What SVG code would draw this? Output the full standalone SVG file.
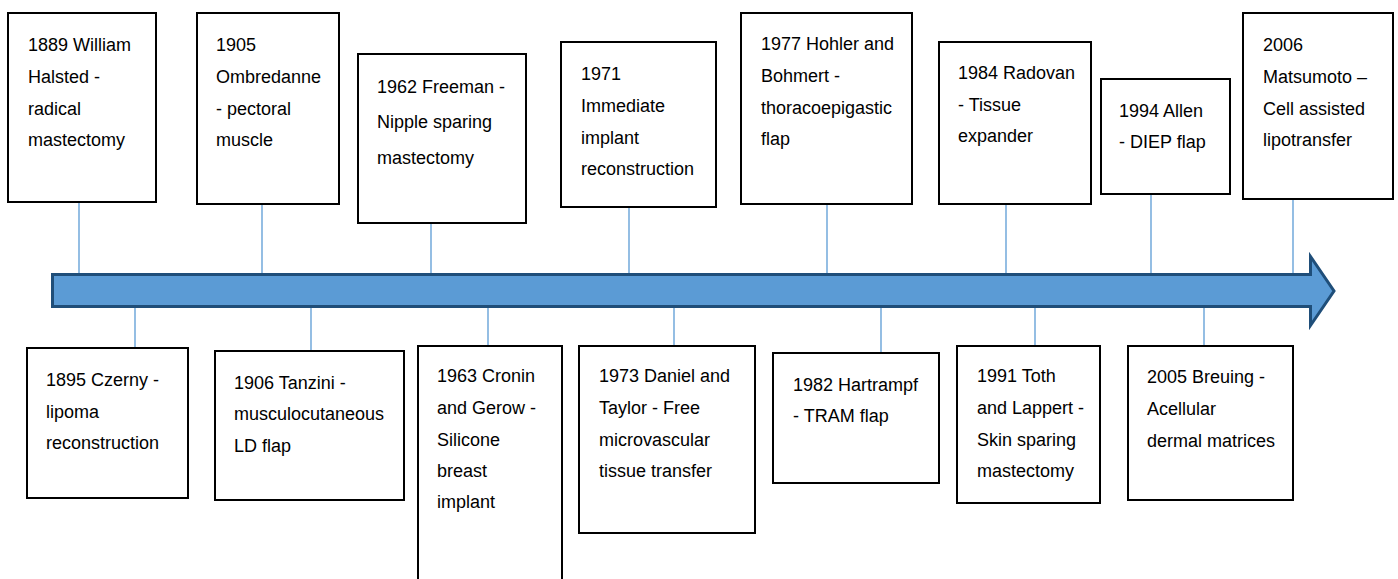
<svg xmlns="http://www.w3.org/2000/svg" width="1398" height="579" viewBox="0 0 1398 579">
<style>
.box{fill:#fff;stroke:#000;stroke-width:2}
.t{font-family:"Liberation Sans",Arial,sans-serif;font-size:18px;fill:#000}
.c{stroke:#5B9BD5;stroke-width:1.3;fill:none}
</style>
<rect width="1398" height="579" fill="#fff"/>
<g id="connectors">
<line class="c" x1="79" y1="202" x2="79" y2="276"/>
<line class="c" x1="262" y1="204" x2="262" y2="276"/>
<line class="c" x1="431" y1="223" x2="431" y2="276"/>
<line class="c" x1="629" y1="207" x2="629" y2="276"/>
<line class="c" x1="827" y1="204" x2="827" y2="276"/>
<line class="c" x1="1006" y1="204" x2="1006" y2="276"/>
<line class="c" x1="1151" y1="194" x2="1151" y2="276"/>
<line class="c" x1="1293" y1="193" x2="1293" y2="276"/>
<line class="c" x1="135" y1="306" x2="135" y2="348"/>
<line class="c" x1="311" y1="306" x2="311" y2="351"/>
<line class="c" x1="488" y1="306" x2="488" y2="346"/>
<line class="c" x1="674" y1="306" x2="674" y2="346"/>
<line class="c" x1="881" y1="306" x2="881" y2="353"/>
<line class="c" x1="1035" y1="306" x2="1035" y2="346"/>
<line class="c" x1="1204" y1="306" x2="1204" y2="346"/>
</g>
<g id="timeline-arrow">
<path d="M52.5,274.5 L1310.5,274.5 L1310.5,256.5 L1334,291 L1310.5,325.5 L1310.5,306.5 L52.5,306.5 Z" fill="#5B9BD5" stroke="#1F4E79" stroke-width="3" stroke-linejoin="miter"/>
</g>
<g id="n1889"><rect class="box" x="8" y="13" width="148" height="189"/>
<text class="t" x="28" y="51">1889 William</text><text class="t" x="28" y="83">Halsted -</text><text class="t" x="28" y="115">radical</text><text class="t" x="28" y="146">mastectomy</text></g>
<g id="n1905"><rect class="box" x="197" y="13" width="142" height="191"/>
<text class="t" x="216" y="51">1905</text><text class="t" x="216" y="83">Ombredanne</text><text class="t" x="216" y="115">- pectoral</text><text class="t" x="216" y="146">muscle</text></g>
<g id="n1962"><rect class="box" x="358" y="54" width="168" height="169"/>
<text class="t" x="377" y="93">1962 Freeman -</text><text class="t" x="377" y="128">Nipple sparing</text><text class="t" x="377" y="164">mastectomy</text></g>
<g id="n1971"><rect class="box" x="561" y="42" width="155" height="165"/>
<text class="t" x="581" y="80">1971</text><text class="t" x="581" y="112">Immediate</text><text class="t" x="581" y="144">implant</text><text class="t" x="581" y="175">reconstruction</text></g>
<g id="n1977"><rect class="box" x="741" y="13" width="171" height="191"/>
<text class="t" x="761" y="50">1977 Hohler and</text><text class="t" x="761" y="82">Bohmert -</text><text class="t" x="761" y="114">thoracoepigastic</text><text class="t" x="761" y="145">flap</text></g>
<g id="n1984"><rect class="box" x="939" y="42" width="152" height="162"/>
<text class="t" x="958" y="79">1984 Radovan</text><text class="t" x="958" y="111">- Tissue</text><text class="t" x="958" y="142">expander</text></g>
<g id="n1994"><rect class="box" x="1101" y="79" width="129" height="115"/>
<text class="t" x="1119" y="117">1994 Allen</text><text class="t" x="1119" y="148">- DIEP flap</text></g>
<g id="n2006"><rect class="box" x="1243" y="13" width="150" height="186"/>
<text class="t" x="1263" y="51">2006</text><text class="t" x="1263" y="83">Matsumoto –</text><text class="t" x="1263" y="115">Cell assisted</text><text class="t" x="1263" y="146">lipotransfer</text></g>
<g id="n1895"><rect class="box" x="27" y="348" width="161" height="150"/>
<text class="t" x="46" y="386">1895 Czerny -</text><text class="t" x="46" y="418">lipoma</text><text class="t" x="46" y="449">reconstruction</text></g>
<g id="n1906"><rect class="box" x="215" y="351" width="189" height="149"/>
<text class="t" x="234" y="389">1906 Tanzini -</text><text class="t" x="234" y="420">musculocutaneous</text><text class="t" x="234" y="452">LD flap</text></g>
<g id="n1963"><rect class="box" x="418" y="346" width="144" height="250"/>
<text class="t" x="437" y="382">1963 Cronin</text><text class="t" x="437" y="414">and Gerow -</text><text class="t" x="437" y="446">Silicone</text><text class="t" x="437" y="477">breast</text><text class="t" x="437" y="508">implant</text></g>
<g id="n1973"><rect class="box" x="579" y="346" width="176" height="187"/>
<text class="t" x="599" y="382">1973 Daniel and</text><text class="t" x="599" y="414">Taylor - Free</text><text class="t" x="599" y="446">microvascular</text><text class="t" x="599" y="477">tissue transfer</text></g>
<g id="n1982"><rect class="box" x="773" y="353" width="166" height="130"/>
<text class="t" x="793" y="391">1982 Hartrampf</text><text class="t" x="793" y="422">- TRAM flap</text></g>
<g id="n1991"><rect class="box" x="957" y="346" width="143" height="157"/>
<text class="t" x="977" y="382">1991 Toth</text><text class="t" x="977" y="414">and Lappert -</text><text class="t" x="977" y="446">Skin sparing</text><text class="t" x="977" y="477">mastectomy</text></g>
<g id="n2005"><rect class="box" x="1128" y="346" width="165" height="154"/>
<text class="t" x="1147" y="383">2005 Breuing -</text><text class="t" x="1147" y="415">Acellular</text><text class="t" x="1147" y="447">dermal matrices</text></g>
</svg>
